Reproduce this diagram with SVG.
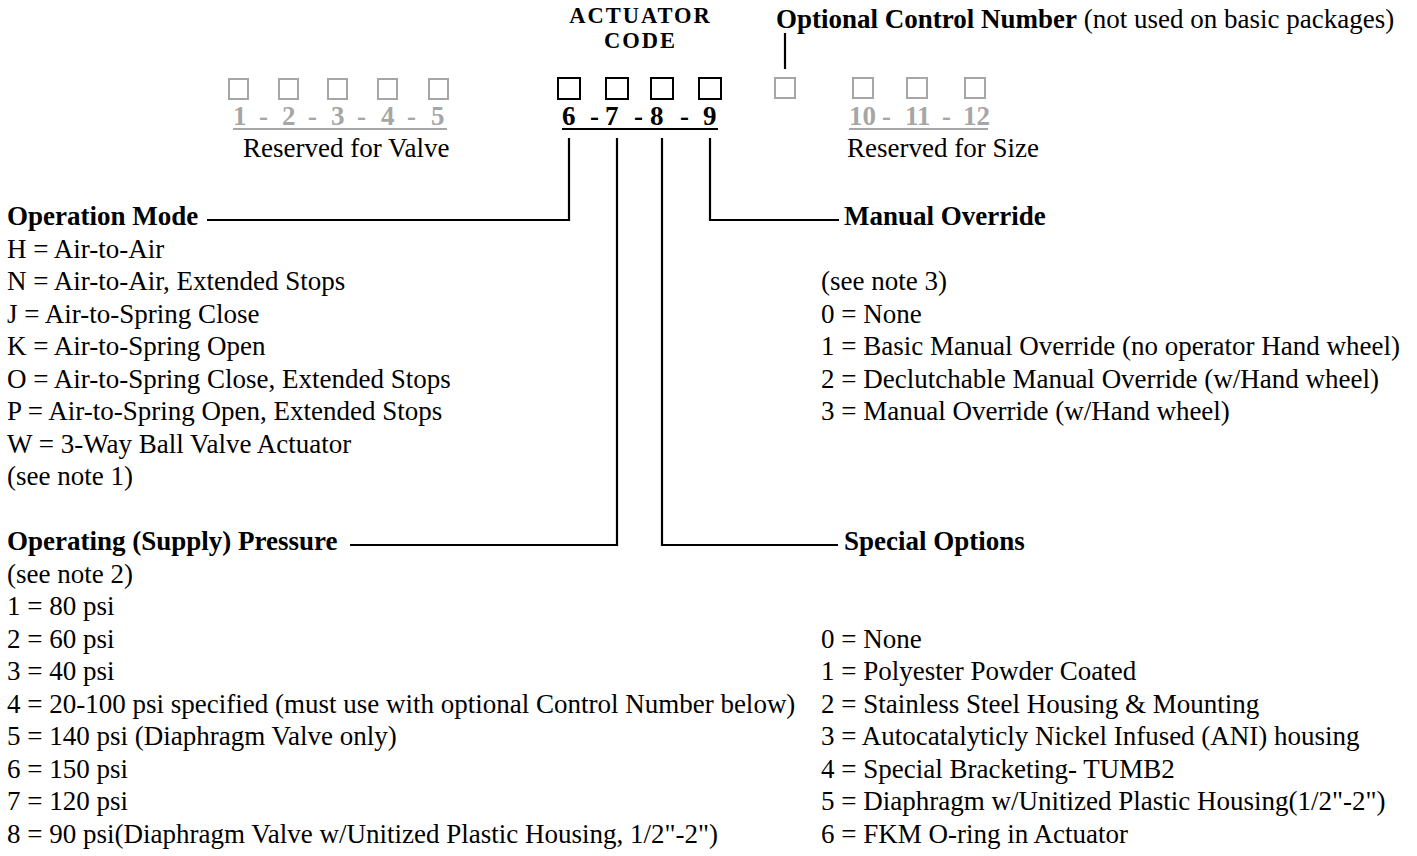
<svg xmlns="http://www.w3.org/2000/svg" width="1417" height="856" viewBox="0 0 1417 856">
<style>
text{font-family:"Liberation Serif","Times New Roman",serif;font-size:27px;fill:#000}
.b{font-weight:bold}
.g{fill:#a6a6a6}
.hd{font-size:22.5px;letter-spacing:2px}
.bx{fill:none;stroke:#000;stroke-width:2}
.gbx{fill:none;stroke:#a6a6a6;stroke-width:2}
.ln{fill:none;stroke:#000;stroke-width:2.2}
.gl{stroke:#a6a6a6;stroke-width:1.8}
</style>
<rect width="1417" height="856" fill="#fff"/>
<g id="valve-reserved">
<rect class="gbx" x="229" y="79" width="19" height="20"/>
<rect class="gbx" x="279" y="79" width="19" height="20"/>
<rect class="gbx" x="328" y="79" width="19" height="20"/>
<rect class="gbx" x="378" y="79" width="19" height="20"/>
<rect class="gbx" x="429" y="79" width="19" height="20"/>
<text class="b g" y="125"><tspan x="233">1</tspan> <tspan x="259">-</tspan> <tspan x="282">2</tspan> <tspan x="308">-</tspan> <tspan x="331">3</tspan> <tspan x="357">-</tspan> <tspan x="381">4</tspan> <tspan x="407">-</tspan> <tspan x="431">5</tspan></text>
<line class="gl" x1="233" y1="129" x2="447" y2="129"/>
<text x="243" y="157">Reserved for Valve</text>
</g>
<g id="actuator-code">
<text class="b hd" text-anchor="middle" x="640.5" y="22.5">ACTUATOR</text>
<text class="b hd" text-anchor="middle" x="640.5" y="47.5">CODE</text>
<rect class="bx" x="558" y="78" width="22" height="21"/>
<rect class="bx" x="606" y="78" width="22" height="21"/>
<rect class="bx" x="651" y="78" width="22" height="21"/>
<rect class="bx" x="699" y="78" width="22" height="21"/>
<text class="b" y="125"><tspan x="562">6</tspan> <tspan x="590">-</tspan> <tspan x="605">7</tspan> <tspan x="634">-</tspan> <tspan x="650">8</tspan> <tspan x="680">-</tspan> <tspan x="703">9</tspan></text>
<line x1="562" y1="129" x2="718" y2="129" stroke="#000" stroke-width="2"/>
</g>
<g id="optional-control">
<text x="776" y="28"><tspan class="b">Optional Control Number</tspan> (not used on basic packages)</text>
<rect class="gbx" x="775" y="78" width="20" height="20"/>
</g>
<g id="size-reserved">
<rect class="gbx" x="853" y="78" width="20" height="20"/>
<rect class="gbx" x="907" y="78" width="20" height="20"/>
<rect class="gbx" x="965" y="78" width="20" height="20"/>
<text class="b g" y="125"><tspan x="849">10</tspan> <tspan x="882">-</tspan> <tspan x="905">11</tspan> <tspan x="942">-</tspan> <tspan x="963">12</tspan></text>
<line class="gl" x1="849" y1="129" x2="988" y2="129"/>
<text x="847" y="157">Reserved for Size</text>
</g>
<g id="connectors">
<line class="ln" x1="785" y1="33" x2="785" y2="69"/>
<polyline class="ln" points="569,138 569,220 207,220"/>
<polyline class="ln" points="617,138 617,545 350,545"/>
<polyline class="ln" points="662,138 662,545 838,545"/>
<polyline class="ln" points="710,138 710,220 839,220"/>
</g>
<g id="operation-mode">
<text class="b" x="7" y="225">Operation Mode</text>
<text x="7" y="257.5">H = Air-to-Air</text>
<text x="7" y="290">N = Air-to-Air, Extended Stops</text>
<text x="7" y="322.5">J = Air-to-Spring Close</text>
<text x="7" y="355">K = Air-to-Spring Open</text>
<text x="7" y="387.5">O = Air-to-Spring Close, Extended Stops</text>
<text x="7" y="420">P = Air-to-Spring Open, Extended Stops</text>
<text x="7" y="452.5">W = 3-Way Ball Valve Actuator</text>
<text x="7" y="485">(see note 1)</text>
</g>
<g id="supply-pressure">
<text class="b" x="7" y="550">Operating (Supply) Pressure</text>
<text x="7" y="582.5">(see note 2)</text>
<text x="7" y="615">1 = 80 psi</text>
<text x="7" y="647.5">2 = 60 psi</text>
<text x="7" y="680">3 = 40 psi</text>
<text x="7" y="712.5">4 = 20-100 psi specified (must use with optional Control Number below)</text>
<text x="7" y="745">5 = 140 psi (Diaphragm Valve only)</text>
<text x="7" y="777.5">6 = 150 psi</text>
<text x="7" y="810">7 = 120 psi</text>
<text x="7" y="842.5">8 = 90 psi(Diaphragm Valve w/Unitized Plastic Housing, 1/2"-2")</text>
</g>
<g id="manual-override">
<text class="b" x="844" y="225">Manual Override</text>
<text x="821" y="290">(see note 3)</text>
<text x="821" y="322.5">0 = None</text>
<text x="821" y="355">1 = Basic Manual Override (no operator Hand wheel)</text>
<text x="821" y="387.5">2 = Declutchable Manual Override (w/Hand wheel)</text>
<text x="821" y="420">3 = Manual Override (w/Hand wheel)</text>
</g>
<g id="special-options">
<text class="b" x="844" y="550">Special Options</text>
<text x="821" y="647.5">0 = None</text>
<text x="821" y="680">1 = Polyester Powder Coated</text>
<text x="821" y="712.5">2 = Stainless Steel Housing &amp; Mounting</text>
<text x="821" y="745">3 = Autocatalyticly Nickel Infused (ANI) housing</text>
<text x="821" y="777.5">4 = Special Bracketing- TUMB2</text>
<text x="821" y="810">5 = Diaphragm w/Unitized Plastic Housing(1/2"-2")</text>
<text x="821" y="842.5">6 = FKM O-ring in Actuator</text>
</g>
</svg>
